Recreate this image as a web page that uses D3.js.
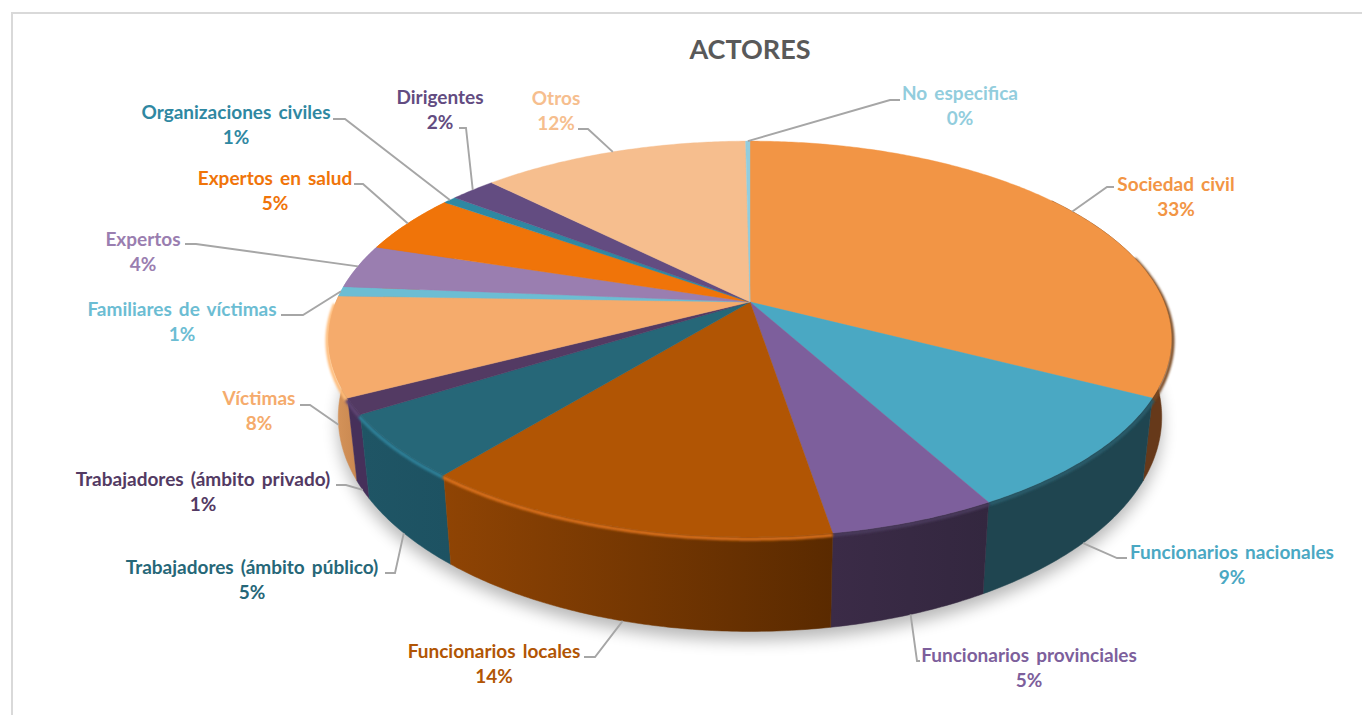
<!DOCTYPE html>
<html>
<head>
<meta charset="utf-8">
<script src="https://cdn.jsdelivr.net/npm/d3@7"></script>
<style>
html,body{margin:0;padding:0;background:#fff;overflow:hidden}
svg{display:block}
text{font-family:Lato,"Open Sans",sans-serif;font-weight:700}
</style>
</head>
<body>
<svg id="chart" width="1362" height="715"></svg>
<script>
var categories = ['Sociedad civil','Funcionarios nacionales','Funcionarios provinciales','Funcionarios locales',
	'Trabajadores (ámbito público)','Trabajadores (ámbito privado)','Víctimas','Familiares de víctimas',
	'Expertos','Expertos en salud','Organizaciones civiles','Dirigentes','Otros','No especifica'];
var values = [32.6,9.4,5.4,13.5,5.2,1.3,8.1,0.8,3.6,4.9,0.6,2.1,12.3,0.2];

var colors = ['#f29545','#4aa8c3','#7d5f9c','#b15504','#266778','#533a63','#f5ab6c',
	'#6cbdd3','#9a7eb0','#f07409','#2f88a2','#634c81','#f6be8e','#92cddd'];
// side wall shades, [left, right] of each slice
var sideColors = {0:['#66391a','#66391a'],1:['#1f4550','#1f4550'],2:['#3b2b47','#33273f'],3:['#8f4404','#5a2a00'],
	4:['#1f5565','#1d5262'],5:['#46305a','#46305a'],6:['#d9975d','#c98850']};
var rimColors = {0:'#7a4a20',1:'#2c5c6b',2:'#4a3a5c',3:'#d9701a',4:'#2f8098',5:'#5f4472',6:'#ffbb78'};

// label centre x, y of first line, then leader path from the label towards the slice
var labelX = [1176,1232,1029,494,252,203,259,182,143,275,236,440,556,960];
var labelY = [184,552,655,651,567,479,398,309,239,178,112,97,98,93];
var leaderKnee = [[1114,187,1107,187],[1127,558,1117,558],[920,661,917,661],[584,657,595,657],
	[385,573,395,573],[336,485,346,485],[300,405,310,405],[281,315,303,315],
	[185,244,196,244],[354,184,363,184],[333,119,345,119],[459,128,466,128],[578,129,588,129],[900,100,890,100]];

var cx = 750, cy = 302,      // where the slices meet
	rxB = 414, ryA = 191,    // projected radii
	persp = -0.187;          // perspective of the disc plane

function project(a){
	var u = Math.sin(a), v = -Math.cos(a), d = 1 + persp*v;
	return [cx + rxB*u/d, cy + ryA*v/d];
}
// the lower rim sits a bit lower and narrower than the top one
function lower(p){
	return [cx + (p[0]-cx)*0.977, p[1] + 75 + 0.083*(p[1]-cy)];
}
function arcPoints(a0,a1){
	var n = Math.max(2,Math.ceil((a1-a0)/0.01)), pts = [];
	for(var i=0;i<=n;i++){ pts.push(project(a0+(a1-a0)*i/n)); }
	return pts;
}

var svg = d3.select('#chart');
var linePath = d3.line();
var closedPath = d3.line().curve(d3.curveLinearClosed);
var pie = d3.pie().sort(null).value(function(d){return d;})(values);
var TAU = Math.PI*2;

var defs = svg.append('defs');
defs.append('filter').attr('id','shadowBlur').attr('x','-10%').attr('y','-10%').attr('width','120%').attr('height','130%')
	.append('feGaussianBlur').attr('stdDeviation',8);
defs.append('filter').attr('id','rimBlur').attr('filterUnits','userSpaceOnUse').attr('x',0).attr('y',0).attr('width',1362).attr('height',715)
	.append('feGaussianBlur').attr('stdDeviation',1.1);

// chart frame, open on the right and bottom like the source
svg.append('path').attr('d','M12,715V13H1362').attr('fill','none').attr('stroke','#d9d9d9').attr('stroke-width',2);

svg.append('text').attr('x',750).attr('y',59).attr('text-anchor','middle')
	.style('font-size','27px').style('fill','#595959').text('ACTORES');

// soft shadow under the disc
svg.append('path')
	.attr('d',closedPath(arcPoints(0,TAU).map(lower).map(function(p){return [p[0],p[1]+9];})))
	.attr('fill','#000').attr('opacity',0.28).attr('filter','url(#shadowBlur)');

// side walls, from the far ends towards the front
var visFrom = Math.PI*0.3, visTo = Math.PI*1.7;
var sides = pie.map(function(d,i){return {d:d,i:i};})
	.filter(function(s){return s.d.endAngle>visFrom && s.d.startAngle<visTo;})
	.sort(function(a,b){
		var ma=(a.d.startAngle+a.d.endAngle)/2, mb=(b.d.startAngle+b.d.endAngle)/2;
		return Math.abs(mb-Math.PI)-Math.abs(ma-Math.PI);
	});
sides.forEach(function(s){
	var a0=Math.max(s.d.startAngle,visFrom), a1=Math.min(s.d.endAngle,visTo);
	var upper=arcPoints(a0,a1), bottom=upper.map(lower).reverse();
	var xs=upper.concat(bottom).map(function(p){return p[0];});
	var shade=sideColors[s.i]||[colors[s.i],colors[s.i]];
	var gid='side'+s.i;
	var g=defs.append('linearGradient').attr('id',gid).attr('gradientUnits','userSpaceOnUse')
		.attr('x1',d3.min(xs)).attr('x2',d3.max(xs)).attr('y1',0).attr('y2',0);
	g.append('stop').attr('offset',0).attr('stop-color',shade[0]);
	g.append('stop').attr('offset',1).attr('stop-color',shade[1]);
	svg.append('path').attr('class','side').attr('d',closedPath(upper.concat(bottom)))
		.attr('fill','url(#'+gid+')').attr('stroke','url(#'+gid+')').attr('stroke-width',0.5);
});

// rim bevel along the front edge, pushed slightly outwards from the disc
sides.forEach(function(s){
	if(!rimColors[s.i]) return;
	var a0=Math.max(s.d.startAngle,Math.PI*0.42), a1=Math.min(s.d.endAngle,Math.PI*1.5);
	if(a1<=a0) return;
	svg.append('path').attr('d',linePath(arcPoints(a0,a1).map(function(p){return [cx+(p[0]-cx)*1.003,p[1]+2];})))
		.attr('fill','none').attr('stroke',rimColors[s.i]).attr('stroke-width',3.5).attr('filter','url(#rimBlur)');
});

// top face
svg.append('g').selectAll('path').data(pie).enter().append('path')
	.attr('d',function(d){return closedPath([[cx,cy]].concat(arcPoints(d.startAngle,d.endAngle)));})
	.attr('fill',function(d,i){return colors[i];})
	.attr('stroke',function(d,i){return colors[i];}).attr('stroke-width',0.4);

// leader lines start on the slice's outer edge (lower rim for the front slices)
svg.append('g').selectAll('path').data(pie).enter().append('path')
	.attr('d',function(d,i){
		var m=(d.startAngle+d.endAngle)/2, p=project(m), v=-Math.cos(m);
		if(v>0.1) p=lower(p);
		var k=leaderKnee[i];
		return linePath([[k[0],k[1]],[k[2],k[3]],p]);
	})
	.attr('fill','none').attr('stroke','#a6a6a6').attr('stroke-width',1.9);

var pct = d3.format('.0f');
var labels = svg.append('g').selectAll('text').data(categories).enter().append('text')
	.attr('text-anchor','middle')
	.style('font-size','19px')
	.style('word-spacing','2.5px')
	.style('fill',function(d,i){return colors[i];});
labels.append('tspan').attr('x',function(d,i){return labelX[i];}).attr('y',function(d,i){return labelY[i]+7;}).text(function(d){return d;});
labels.append('tspan').attr('x',function(d,i){return labelX[i];}).attr('y',function(d,i){return labelY[i]+32;}).text(function(d,i){return pct(values[i])+'%';});
</script>
</body>
</html>
